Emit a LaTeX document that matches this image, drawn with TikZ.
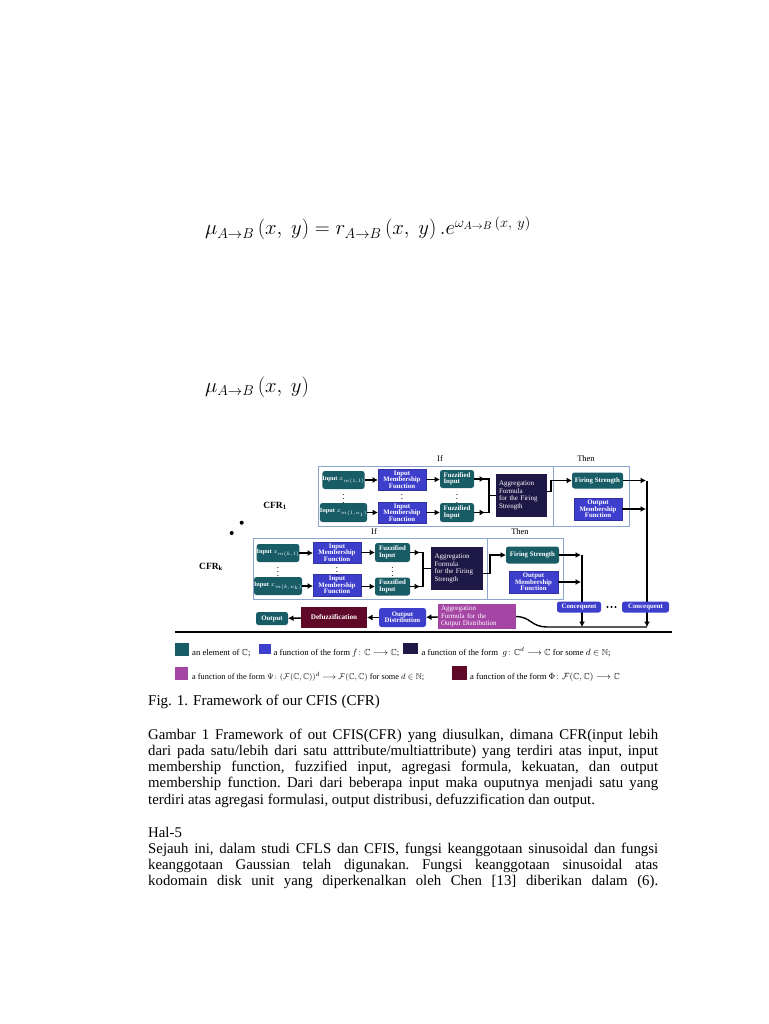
\documentclass[tikz,border=0pt]{standalone}
\usepackage{amsmath,amssymb}
\usepackage{fontspec}
\setmainfont{Liberation Serif}
\usetikzlibrary{arrows.meta}
\definecolor{cteal}{RGB}{24,92,102}
\definecolor{cblue}{RGB}{62,62,205}
\definecolor{cnavy}{RGB}{30,24,70}
\definecolor{cpurp}{RGB}{165,70,165}
\definecolor{cmaroon}{RGB}{96,8,40}
\definecolor{cframe}{RGB}{140,165,205}
\newcommand{\bxfont}{\fontsize{6.8}{6.4}\selectfont\bfseries}
\newcommand{\agfont}{\fontsize{7}{7.6}\selectfont}
\newcommand{\inx}[1]{$x_{\scriptscriptstyle #1}$}
\tikzset{
  base/.style={inner sep=0pt, outer sep=0pt, text=white, align=center},
  tealbox/.style={base, fill=cteal, rounded corners=2.5pt, font=\bxfont},
  inbox/.style={base, fill=cteal, rounded corners=2.5pt, font=\fontsize{6.3}{6.3}\selectfont\bfseries},
  bluebox/.style={base, fill=cblue, draw=cblue!80!black, line width=0.6pt, font=\bxfont},
  bluerbox/.style={base, fill=cblue, rounded corners=2.5pt, font=\bxfont},
  navybox/.style={base, fill=cnavy, align=left, font=\agfont},
  purpbox/.style={base, fill=cpurp, align=left, font=\agfont},
  maroonbox/.style={base, fill=cmaroon, font=\fontsize{7.2}{7}\selectfont\bfseries},
  frame/.style={draw=cframe, line width=0.9pt},
  ln/.style={line width=1.4pt, black},
  arr/.style={line width=1.4pt, black, -{Latex[length=5.5pt,width=6pt]}},
  lbl/.style={inner sep=0pt, font=\fontsize{8.5}{8.5}\selectfont},
  vd/.style={inner sep=0pt, font=\fontsize{7}{7}\selectfont\bfseries},
  leg/.style={inner sep=0pt, anchor=base west, font=\fontsize{8.7}{9}\selectfont},
  bdot/.style={circle, fill=black, inner sep=0pt, minimum size=2.2pt},
}
\begin{document}
\begin{tikzpicture}[x=1pt,y=-1pt]
\useasboundingbox (0,0) rectangle (768,1024);
\fill[white] (0,0) rectangle (768,1024);

% equations
\node[anchor=base west, inner sep=0pt, font=\fontsize{21.5}{24}\selectfont] (eq1) at (205,235)
  {$\mu_{A\rightarrow B}\,(x,\ y) = r_{A\rightarrow B}\,(x,\ y)\,.e^{\omega_{A\rightarrow B}\,(x,\ y)}$};
\node[anchor=base west, inner sep=0pt, font=\fontsize{21}{24}\selectfont] (eq2) at (205,392)
  {$\mu_{A\rightarrow B}\,(x,\ y)$};

% ===== CFR_1 =====
\draw[frame] (318,466) rectangle (629,526);
\draw[frame] (553,466) -- (553,526);
\node[lbl] (if1) at (440,459) {If};
\node[lbl] (then1) at (586,459) {Then};
\node[inner sep=0pt, font=\fontsize{9.5}{9.5}\selectfont\bfseries] (cfr1) at (275,506) {CFR$_{\mathbf 1}$};

\node[inbox, minimum width=41pt, minimum height=18pt] (in11) at (343.5,480) {Input\;\inx{m(1,1)}};
\node[inbox, minimum width=41pt, minimum height=19pt] (in1n) at (343.5,512.5) {Input\;\inx{m(1,n_1)}};
\node[bluebox, minimum width=48pt, minimum height=21pt] (imf11) at (402,479.5) {Input\\Membership\\Function};
\node[bluebox, minimum width=48pt, minimum height=21pt] (imf1n) at (402,512.5) {Input\\Membership\\Function};
\node[tealbox, minimum width=34pt, minimum height=18pt, align=left] (fz11) at (457,479) {Fuzzified\\Input};
\node[tealbox, minimum width=34pt, minimum height=19pt, align=left] (fz1n) at (457,512.5) {Fuzzified\\Input};
\node[navybox, minimum width=51pt, minimum height=43pt, text width=45pt] (ag1) at (521.5,495.5) {Aggregation\\Formula\\for the Firing\\Strength};
\node[tealbox, minimum width=51pt, minimum height=16pt] (fs1) at (597.5,480.5) {Firing Strength};
\node[bluebox, minimum width=48pt, minimum height=22pt] (omf1) at (598,509) {Output\\Membership\\Function};
\node[vd] (d11) at (343.5,496) {$\vdots$};
\node[vd] (d12) at (402,496) {$\vdots$};
\node[vd] (d13) at (457,496) {$\vdots$};

\draw[arr] (in11) -- (imf11.west |- in11);
\draw[arr] (in1n) -- (imf1n);
\draw[arr] (imf11.east) -- (fz11.west |- imf11.east);
\draw[arr] (imf1n) -- (fz1n);
\coordinate (b1t) at (489,479);
\coordinate (b1b) at (489,512.5);
\draw[ln] (fz11.east) -- (b1t) -- (b1b) -- (fz1n.east);
\draw[arr] (fz11.east) -- ++(11,0);
\draw[arr] (fz1n.east) -- ++(11,0);
\draw[ln] (489,495.5) -- (ag1.west);
\draw[arr] ([yshift=3.8pt]ag1.east) -- ++(4,0) |- (fs1.west);

% ===== CFR_k =====
\node[circle, fill=black, inner sep=0pt, minimum size=4pt] (dot1) at (241.7,522.7) {};
\node[circle, fill=black, inner sep=0pt, minimum size=4pt] (dot2) at (231.7,533) {};
\draw[frame] (253,538) rectangle (563,599);
\draw[frame] (487,538) -- (487,599);
\node[lbl] (ifk) at (374,532) {If};
\node[lbl] (thenk) at (520,532) {Then};
\node[inner sep=0pt, font=\fontsize{9.5}{9.5}\selectfont\bfseries] (cfrk) at (211,567) {CFR$_{\mathbf k}$};

\node[inbox, minimum width=40pt, minimum height=18pt] (ink1) at (278,553) {Input\;\inx{m(k,1)}};
\node[inbox, minimum width=40pt, minimum height=18pt] (inkn) at (278,586) {Input\;\inx{m(k,n_k)}};
\node[bluebox, minimum width=48pt, minimum height=21pt] (imfk1) at (337,552.5) {Input\\Membership\\Function};
\node[bluebox, minimum width=48pt, minimum height=22pt] (imfkn) at (337,585) {Input\\Membership\\Function};
\node[tealbox, minimum width=35pt, minimum height=19pt, align=left] (fzk1) at (392.5,552.5) {Fuzzified\\Input};
\node[tealbox, minimum width=35pt, minimum height=18pt, align=left] (fzkn) at (392.5,586.5) {Fuzzified\\Input};
\node[navybox, minimum width=52pt, minimum height=43pt, text width=45pt] (agk) at (457,568.5) {Aggregation\\Formula\\for the Firing\\Strength};
\node[tealbox, minimum width=53pt, minimum height=17pt] (fsk) at (532.5,555) {Firing Strength};
\node[bluebox, minimum width=49pt, minimum height=22pt] (omfk) at (533.5,582) {Output\\Membership\\Function};
\node[vd] (dk1) at (278,569.5) {$\vdots$};
\node[vd] (dk2) at (337,569) {$\vdots$};
\node[vd] (dk3) at (392.5,569.5) {$\vdots$};

\draw[arr] (ink1) -- (imfk1.west |- ink1);
\draw[arr] (inkn) -- (imfkn.west |- inkn);
\draw[arr] (imfk1) -- (fzk1);
\draw[arr] (imfkn.east |- fzkn) -- (fzkn.west);
\coordinate (bkt) at (423,552.5);
\coordinate (bkb) at (423,586.5);
\draw[ln] (fzk1.east) -- (bkt) -- (bkb) -- (fzkn.east);
\draw[arr] (fzk1.east) -- ++(10,0);
\draw[arr] (fzkn.east) -- ++(10,0);
\draw[ln] (423,568.5) -- (agk.west);
\draw[arr] ([yshift=-5pt]agk.east) -- ++(7,0) |- (fsk.west);

% ===== right collectors =====
\coordinate (v1) at (647,627);
\coordinate (v2) at (582,627);
\draw[arr] (fs1.east) -- ([xshift=-1pt]fs1.east -| v1);
\draw[arr] (omf1.east) -- ([xshift=-1pt]omf1.east -| v1);
\draw[arr] (fs1.east -| v1) -- (v1);
\draw[arr] (fsk.east) -- ([xshift=-1pt]fsk.east -| v2);
\draw[arr] (omfk.east) -- ([xshift=-1pt]omfk.east -| v2);
\draw[arr] (fsk.east -| v2) -- (v2);

\node[bluerbox, minimum width=44pt, minimum height=11pt] (c1) at (579,607) {Concequent};
\node[bluerbox, minimum width=47pt, minimum height=11pt] (c2) at (645.5,607) {Concequent};
\node[bdot] (cd1) at (607.5,607) {};
\node[bdot] (cd2) at (611.5,607) {};
\node[bdot] (cd3) at (615.5,607) {};

% ===== bottom row =====
\node[purpbox, minimum width=78pt, minimum height=25pt, text width=72pt] (aggout) at (477,616.5) {Aggregation\\Formula for the\\Output Distribution};
\node[bluerbox, minimum width=47pt, minimum height=19pt] (outdist) at (402.5,617.5) {Output\\Distribution};
\node[maroonbox, minimum width=66pt, minimum height=21pt] (defuzz) at (334,617.5) {Defuzzification};
\node[tealbox, minimum width=32pt, minimum height=13pt] (output) at (272,618.5) {Output};

\draw[ln] (aggout.east) .. controls (532,617) and (530,627) .. (548,627) -- (v1);
\draw[arr] (aggout) -- (outdist);
\draw[arr] (outdist) -- (defuzz);
\draw[arr] (defuzz) -- (output);

\draw[line width=1.1pt] (175,632) -- (672,632);

% ===== legend =====
\fill[cteal] (175,643) rectangle (189,656);
\node[leg] (l1) at (192,655) {an element of $\mathbb{C}$;};
\fill[cblue] (259,644) rectangle (271,654);
\node[leg] (l2) at (273.5,655) {a function of the form $f\colon \mathbb{C}\longrightarrow\mathbb{C}$;};
\fill[cnavy] (403,643) rectangle (418,654);
\node[leg] (l3) at (421.5,655) {a function of the form\ \ $g\colon \mathbb{C}^d\longrightarrow\mathbb{C}$ for some $d\in\mathbb{N}$;};
\fill[cpurp] (175,667) rectangle (188,680);
\node[leg, font=\fontsize{8.3}{9}\selectfont] (l4) at (192,679) {a function of the form $\Psi\colon (\mathcal{F}(\mathbb{C},\mathbb{C}))^d\longrightarrow\mathcal{F}(\mathbb{C},\mathbb{C})$ for some $d\in\mathbb{N}$;};
\fill[cmaroon] (452,666) rectangle (467,680);
\node[leg] (l5) at (470,679) {a function of the form $\Phi\colon \mathcal{F}(\mathbb{C},\mathbb{C})\longrightarrow\mathbb{C}$};

% ===== text =====
\node[anchor=base west, inner sep=0pt, font=\fontsize{15}{16.3}\selectfont] (cap) at (148,705) {Fig. 1. Framework of our CFIS (CFR)};

\node[anchor=base west, inner sep=0pt] (par1) at (148,739) {\parbox[t]{510pt}{\fontsize{14.8}{16.3}\selectfont\parindent=0pt\frenchspacing
Gambar 1 Framework of out CFIS(CFR) yang diusulkan, dimana CFR(input lebih\linebreak
dari pada satu/lebih dari satu atttribute/multiattribute) yang terdiri atas input, input\linebreak
membership function, fuzzified input, agregasi formula, kekuatan, dan output\linebreak
membership function. Dari dari beberapa input maka ouputnya menjadi satu yang\linebreak
terdiri atas agregasi formulasi, output distribusi, defuzzification dan output.\par}};

\node[anchor=base west, inner sep=0pt] (par2) at (148,837) {\parbox[t]{510pt}{\fontsize{14.8}{16.3}\selectfont\parindent=0pt\frenchspacing
Hal-5\par
{\parfillskip=0pt Sejauh ini, dalam studi CFLS dan CFIS, fungsi keanggotaan sinusoidal dan fungsi\linebreak
keanggotaan Gaussian telah digunakan. Fungsi keanggotaan sinusoidal atas\linebreak
kodomain disk unit yang diperkenalkan oleh Chen [13] diberikan dalam (6).\par}}};
\end{tikzpicture}
\end{document}
